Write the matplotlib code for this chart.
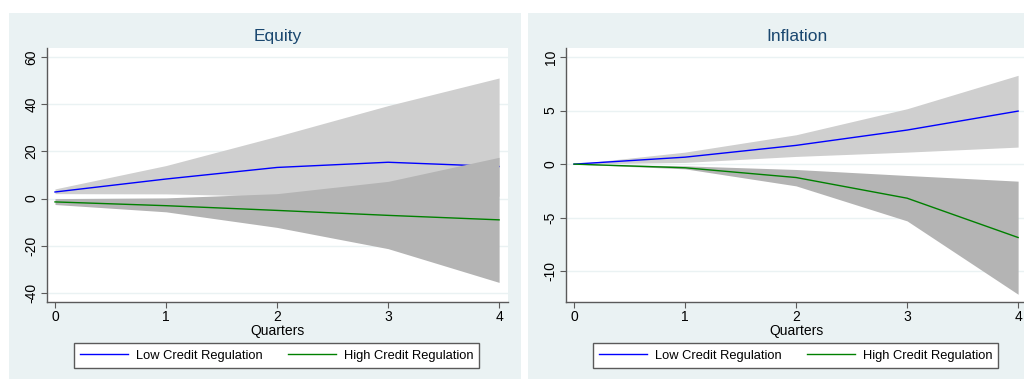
import matplotlib
matplotlib.use("Agg")
import matplotlib.pyplot as plt
from matplotlib.patches import Rectangle

plt.rcParams['font.family'] = ['Liberation Sans', 'DejaVu Sans']

quarters = [0, 1, 2, 3, 4]

# Equity panel
eq_low = [2.8, 8.3, 13.2, 15.4, 13.6]
eq_low_hi = [4.1, 14.0, 26.4, 39.4, 51.1]
eq_low_lo = [2.1, 2.0, 1.0, 1.0, 1.0]
eq_high = [-1.4, -3.0, -5.0, -7.1, -9.0]
eq_high_hi = [0.0, 0.3, 2.1, 7.3, 17.5]
eq_high_lo = [-2.5, -5.6, -12.2, -21.2, -35.5]

# Inflation panel
inf_low = [0.0, 0.65, 1.75, 3.18, 4.95]
inf_low_hi = [0.0, 1.12, 2.74, 5.17, 8.29]
inf_low_lo = [0.0, 0.16, 0.72, 1.12, 1.59]
inf_high = [0.0, -0.34, -1.25, -3.18, -6.85]
inf_high_hi = [0.0, -0.16, -0.5, -1.06, -1.59]
inf_high_lo = [0.0, -0.44, -2.03, -5.3, -12.15]

W, H = 1024, 379
BG = '#eaf2f3'
AXC = '#5a5a5a'

fig = plt.figure(figsize=(W / 100, H / 100), dpi=100)
fig.patch.set_facecolor('white')


def px(x0, y0, x1, y1):
    # pixel box (top-left origin) -> figure fraction rect
    return [x0 / W, (H - y1) / H, (x1 - x0) / W, (y1 - y0) / H]


def panel(x_off, title, low, low_hi, low_lo, high, high_hi, high_lo, yticks, ylim):
    fig.add_artist(Rectangle((x_off / W, -0.01), 512 / W, (H - 13) / H + 0.01,
                             transform=fig.transFigure, facecolor=BG,
                             edgecolor='none', zorder=0))
    ax = fig.add_axes(px(x_off + 38, 48, x_off + 499, 302))
    ax.set_facecolor('white')
    ax.fill_between(quarters, low_lo, low_hi, color='#cfcfcf', lw=0, zorder=1)
    ax.plot(quarters, low, color='#0000ff', lw=1.0, zorder=2,
            label='Low Credit Regulation')
    ax.fill_between(quarters, high_lo, high_hi, color='#b4b4b4', lw=0, zorder=3)
    ax.plot(quarters, high, color='#008000', lw=1.0, zorder=4,
            label='High Credit Regulation')

    ax.set_xlim(-0.072, 4.08)
    ax.set_ylim(*ylim)
    ax.set_xticks(quarters)
    ax.set_yticks(yticks)
    ax.set_yticklabels([str(t) for t in yticks], rotation=90, va='center')
    ax.grid(axis='y', color=BG, lw=1.0, zorder=0)
    ax.set_axisbelow(True)
    for s in ['top', 'right']:
        ax.spines[s].set_visible(False)
    for s in ['left', 'bottom']:
        ax.spines[s].set_color(AXC)
        ax.spines[s].set_linewidth(1.0)
    ax.tick_params(colors=AXC, labelcolor='black', labelsize=10,
                   length=4, width=0.8, pad=2)
    ax.set_xlabel('Quarters', fontsize=10, labelpad=0)
    ax.set_title(title, fontsize=12.5, color='#1a476f', pad=5)

    leg = ax.legend(loc='center', ncol=2,
                    bbox_to_anchor=((x_off + 267.5) / W, (H - 355.5) / H),
                    bbox_transform=fig.transFigure, fontsize=9.3,
                    frameon=True, fancybox=False, edgecolor=AXC, framealpha=1,
                    facecolor='white',
                    handlelength=3.7, handletextpad=0.6, columnspacing=2.0,
                    borderpad=0.5)
    leg.get_frame().set_linewidth(1.0)
    return ax


panel(9, 'Equity', eq_low, eq_low_hi, eq_low_lo, eq_high, eq_high_hi, eq_high_lo,
      [-40, -20, 0, 20, 40, 60], (-43.8, 63.8))
panel(528, 'Inflation', inf_low, inf_low_hi, inf_low_lo, inf_high, inf_high_hi,
      inf_high_lo, [-10, -5, 0, 5, 10], (-12.87, 10.84))

fig.savefig('out.png', dpi=100, facecolor='white')
